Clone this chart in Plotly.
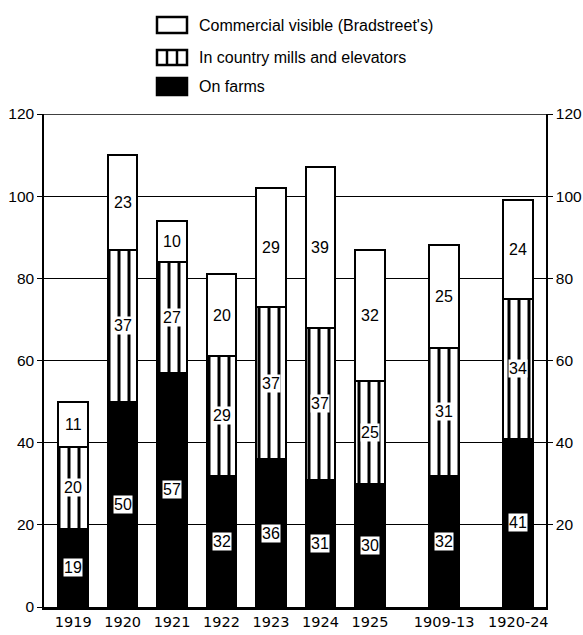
import plotly.graph_objects as go

categories = ["1919", "1920", "1921", "1922", "1923", "1924", "1925", "1909-13", "1920-24"]
x_positions = [0, 1, 2, 3, 4, 5, 6, 7.5, 9]
on_farms = [19, 50, 57, 32, 36, 31, 30, 32, 41]
country_mills = [20, 37, 27, 29, 37, 37, 25, 31, 34]
commercial = [11, 23, 10, 20, 29, 39, 32, 25, 24]
y_ticks = [0, 20, 40, 60, 80, 100, 120]
series_names = ["On farms", "In country mills and elevators", "Commercial visible (Bradstreet's)"]

FONT = "Liberation Sans"
W, H = 583, 635
L, R, T, B = 44, 546, 114, 607

def px(xp):
    return (xp - L) / (R - L)

def py(yp):
    return (B - yp) / (B - T)

fig = go.Figure()
line = dict(color="black", width=2.5)
fig.add_trace(go.Bar(x=x_positions, y=on_farms, name=series_names[0], width=0.6,
                     marker=dict(color="black", line=line), showlegend=False))
fig.add_trace(go.Bar(x=x_positions, y=country_mills, name=series_names[1], width=0.6,
                     marker=dict(color="white", line=line,
                                 pattern=dict(shape="|", fgcolor="black", bgcolor="white",
                                              fgopacity=1, size=10, solidity=0.3)),
                     showlegend=False))
fig.add_trace(go.Bar(x=x_positions, y=commercial, name=series_names[2], width=0.6,
                     marker=dict(color="white", line=line), showlegend=False))

annotations = []
for i, xv in enumerate(x_positions):
    base = 0
    for seg in (on_farms[i], country_mills[i], commercial[i]):
        annotations.append(dict(x=xv, y=base + seg / 2, xref="x", yref="y", text=str(seg),
                                showarrow=False, bgcolor="white", borderpad=0,
                                font=dict(family=FONT, size=16, color="black")))
        base += seg

# legend (drawn manually)
rows = [(17, 33, 25), (50, 65, 57), (78, 95, 87)]
legend_texts = [series_names[2], series_names[1], series_names[0]]
shapes = []
bx0, bx1 = 157, 187
for k, (y0, y1, yc) in enumerate(rows):
    fill = "black" if k == 2 else "white"
    shapes.append(dict(type="rect", xref="paper", yref="paper", x0=px(bx0), x1=px(bx1),
                       y0=py(y1), y1=py(y0), fillcolor=fill, line=dict(color="black", width=2.5)))
    if k == 1:
        for lx in (167, 177):
            shapes.append(dict(type="line", xref="paper", yref="paper", x0=px(lx), x1=px(lx),
                               y0=py(y1), y1=py(y0), line=dict(color="black", width=2.5)))
    annotations.append(dict(x=px(197), y=py(yc), xref="paper", yref="paper", text=legend_texts[k],
                            showarrow=False, xanchor="left", yanchor="middle",
                            font=dict(family=FONT, size=16, color="black")))

# top frame line at 120
shapes.append(dict(type="line", xref="paper", yref="y", x0=0, x1=1, y0=120, y1=120,
                   line=dict(color="black", width=1.5)))

tickfont_y = dict(family=FONT, size=15.5, color="black")
fig.update_layout(
    width=W, height=H,
    margin=dict(l=L, r=W - R, t=T, b=H - B, pad=0),
    paper_bgcolor="white", plot_bgcolor="white",
    barmode="stack",
    bargap=0,
    annotations=annotations,
    shapes=shapes,
    font=dict(family=FONT, size=14, color="black"),
    xaxis=dict(range=[-0.59, 9.56], tickvals=x_positions, ticktext=categories, automargin=False,
               showgrid=False, zeroline=False, showline=True, linecolor="black", linewidth=3,
               ticks="", tickfont=dict(family="DejaVu Sans", size=14.5, color="black")),
    yaxis=dict(range=[0, 120], tickvals=y_ticks, showgrid=True, gridcolor="black", gridwidth=1,
               automargin=False,
               zeroline=False, showline=True, linecolor="black", linewidth=1.5,
               ticks="outside", ticklen=5, tickcolor="black", tickfont=tickfont_y),
    yaxis2=dict(range=[0, 120], tickvals=y_ticks[1:], overlaying="y", side="right",
                automargin=False,
                showgrid=False, zeroline=False, showline=True, linecolor="black", linewidth=1.5,
                ticks="outside", ticklen=5, tickcolor="black", tickfont=tickfont_y),
)
# invisible trace to activate the right axis
fig.add_trace(go.Scatter(x=[x_positions[0]], y=[0], yaxis="y2", mode="markers",
                         marker=dict(opacity=0), showlegend=False, hoverinfo="skip"))

fig.write_html("out.html", config={"displayModeBar": False},
               post_script="document.body.style.margin='0';document.body.style.overflow='hidden';")
